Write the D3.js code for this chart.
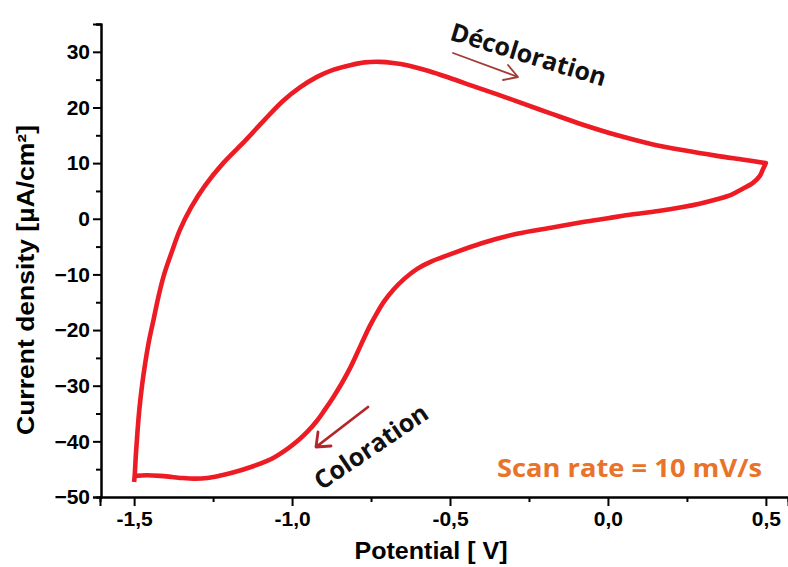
<!DOCTYPE html>
<html>
<head>
<meta charset="utf-8">
<script src="https://cdn.jsdelivr.net/npm/d3@7/dist/d3.min.js"></script>
<style>
  html, body { margin: 0; padding: 0; background: #fff; }
  svg { display: block; }
</style>
</head>
<body>
<svg id="chart" width="788" height="567"></svg>
<script>
// Forward (anodic) sweep: -1.5 V -> 0.5 V
const forwardPotential = [-1.500, -1.498, -1.494, -1.489, -1.483, -1.475, -1.465, -1.453, -1.438, -1.423, -1.405, -1.381, -1.355, -1.320, -1.275, -1.218, -1.149, -1.085, -1.028, -0.975, -0.921, -0.868, -0.816, -0.770, -0.722, -0.680, -0.636, -0.570, -0.500, -0.420, -0.348, -0.288, -0.180, -0.079, 0.030, 0.133, 0.240, 0.345, 0.430, 0.500];
const forwardCurrent   = [-47.3, -46.0, -42.0, -38.0, -34.0, -30.0, -26.0, -22.0, -18.0, -14.0, -10.0, -6.0, -2.0, 2.0, 6.0, 10.0, 14.0, 17.9, 21.2, 23.6, 25.5, 26.8, 27.6, 28.1, 28.2, 28.0, 27.6, 26.6, 25.3, 23.7, 22.3, 21.1, 18.9, 16.9, 15.0, 13.5, 12.3, 11.3, 10.6, 10.0];
// Reverse (cathodic) sweep: 0.5 V -> -1.5 V
const reversePotential = [0.500, 0.490, 0.481, 0.460, 0.427, 0.390, 0.345, 0.290, 0.237, 0.160, 0.079, 0.000, -0.079, -0.180, -0.288, -0.400, -0.500, -0.560, -0.604, -0.645, -0.680, -0.708, -0.731, -0.754, -0.775, -0.796, -0.816, -0.843, -0.870, -0.896, -0.921, -0.952, -0.984, -1.018, -1.054, -1.079, -1.130, -1.187, -1.230, -1.269, -1.310, -1.345, -1.380, -1.418, -1.460, -1.497];
const reverseCurrent   = [10.0, 8.8, 7.7, 6.5, 5.4, 4.3, 3.5, 2.7, 2.1, 1.4, 0.8, 0.1, -0.6, -1.6, -2.7, -4.4, -6.4, -7.7, -9.0, -10.8, -12.8, -14.8, -16.9, -19.3, -21.8, -24.4, -26.8, -29.6, -32.1, -34.3, -36.3, -38.3, -40.0, -41.5, -42.8, -43.5, -44.6, -45.6, -46.2, -46.6, -46.7, -46.6, -46.4, -46.2, -46.1, -46.2];

const xTickValues = [-1.5, -1.0, -0.5, 0.0, 0.5];
const xMinorTicks = [-1.25, -0.75, -0.25, 0.25];
const yTickValues = [-50, -40, -30, -20, -10, 0, 10, 20, 30];
const yMinorTicks = [-45, -35, -25, -15, -5, 5, 15, 25, 35];

const svg = d3.select("#chart");
const x = d3.scaleLinear().domain([-1.608, 0.570]).range([100, 788]);
const y = d3.scaleLinear().domain([-50, 35]).range([497, 24]);

const fmt = d => d3.format(".1f")(d).replace(".", ",").replace("−", "-");
const axisFont = "'Liberation Sans', Arial, sans-serif";

// Curve
const pts = forwardPotential.map((v, i) => [v, forwardCurrent[i]])
  .concat(reversePotential.map((v, i) => [v, reverseCurrent[i]]));
const line = d3.line().x(d => x(d[0])).y(d => y(d[1])).curve(d3.curveCatmullRom.alpha(0.5));
svg.append("path")
  .attr("d", line(pts))
  .attr("fill", "none")
  .attr("stroke", "#ED1C24")
  .attr("stroke-width", 4.6)
  .attr("stroke-linejoin", "round");

// X axis
const gx = svg.append("g").attr("transform", "translate(0,497)");
gx.call(d3.axisBottom(x).tickValues(xTickValues).tickSize(9).tickPadding(5).tickFormat(fmt));
gx.append("g").call(d3.axisBottom(x).tickValues(xMinorTicks).tickSize(5).tickFormat(""));
gx.selectAll(".domain").attr("stroke", "#000").attr("stroke-width", 2);
gx.selectAll(".tick line").attr("stroke", "#000").attr("stroke-width", 2);
gx.selectAll(".tick text")
  .attr("fill", "#000")
  .style("font-family", axisFont)
  .style("font-weight", "bold")
  .style("font-size", "21px");

// Y axis
const gy = svg.append("g").attr("transform", "translate(101,0)");
gy.call(d3.axisLeft(y).tickValues(yTickValues).tickSize(8).tickPadding(3).tickFormat(d3.format("d")));
gy.append("g").call(d3.axisLeft(y).tickValues(yMinorTicks).tickSize(5).tickFormat(""));
gy.selectAll(".domain").attr("stroke", "#000").attr("stroke-width", 2);
gy.selectAll(".tick line").attr("stroke", "#000").attr("stroke-width", 2);
gy.selectAll(".tick text")
  .attr("fill", "#000")
  .style("font-family", axisFont)
  .style("font-weight", "bold")
  .style("font-size", "21px");

// Axis titles
svg.append("text")
  .attr("x", 431).attr("y", 559)
  .attr("text-anchor", "middle")
  .attr("textLength", 153).attr("lengthAdjust", "spacingAndGlyphs")
  .style("font-family", axisFont)
  .style("font-weight", "bold")
  .style("font-size", "23px")
  .text("Potential [ V]");

svg.append("text")
  .attr("transform", "translate(34,280) rotate(-90)")
  .attr("text-anchor", "middle")
  .attr("textLength", 310).attr("lengthAdjust", "spacingAndGlyphs")
  .style("font-family", axisFont)
  .style("font-weight", "bold")
  .style("font-size", "23px")
  .text("Current density [µA/cm²]");

// Annotations
const annFont = "'Open Sans', 'Noto Sans', sans-serif";
svg.append("text")
  .attr("transform", "translate(526,63) rotate(17)")
  .attr("text-anchor", "middle")
  .style("font-family", annFont)
  .style("font-weight", "bold")
  .style("font-size", "25px")
  .attr("fill", "#111")
  .text("Décoloration");

svg.append("text")
  .attr("transform", "translate(376,454) rotate(-34)")
  .attr("text-anchor", "middle")
  .style("font-family", annFont)
  .style("font-weight", "bold")
  .style("font-size", "25px")
  .attr("fill", "#111")
  .text("Coloration");

svg.append("text")
  .attr("x", 762).attr("y", 477)
  .attr("text-anchor", "end")
  .attr("textLength", 265).attr("lengthAdjust", "spacingAndGlyphs")
  .style("font-family", annFont)
  .style("font-weight", "bold")
  .style("font-size", "25px")
  .attr("fill", "#E8732A")
  .text("Scan rate = 10 mV/s");

// Arrows
svg.append("path")
  .attr("d", "M453,53 L518,77 M503,80 L518,77 L508,65")
  .attr("fill", "none").attr("stroke", "#A33A36").attr("stroke-width", 1.8)
  .attr("stroke-linecap", "round").attr("stroke-linejoin", "round");
svg.append("path")
  .attr("d", "M368,407 L316,447 M318,432 L316,447 L331,446")
  .attr("fill", "none").attr("stroke", "#B5262C").attr("stroke-width", 2.8)
  .attr("stroke-linecap", "round").attr("stroke-linejoin", "round");
</script>
</body>
</html>
